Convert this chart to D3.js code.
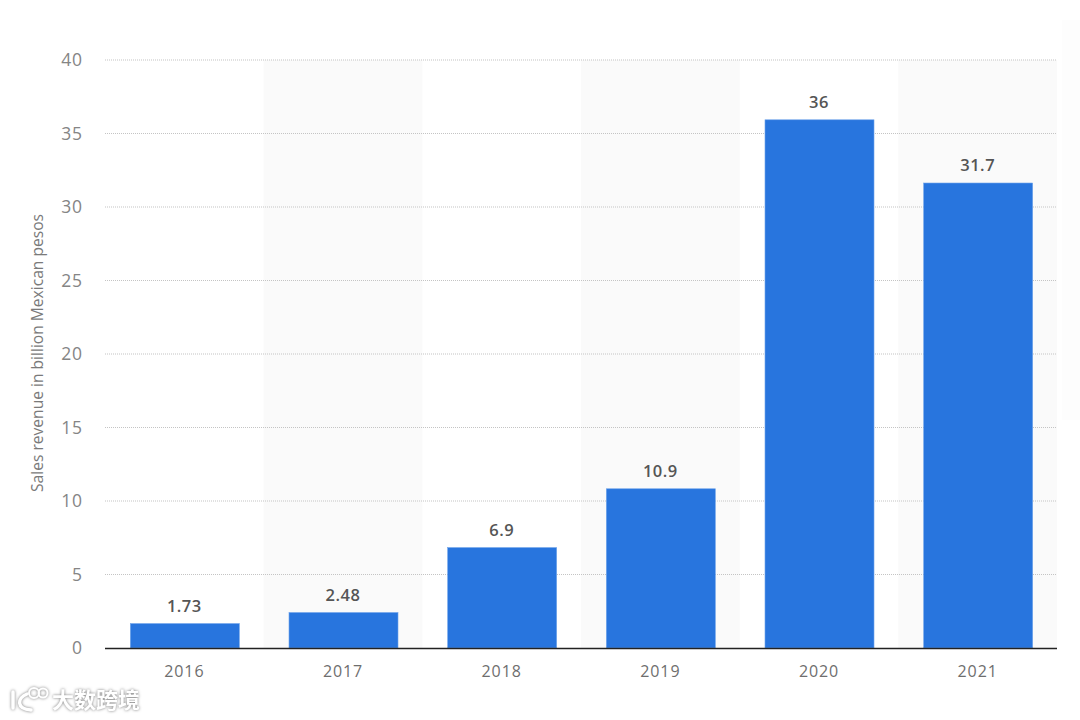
<!DOCTYPE html>
<html>
<head>
<meta charset="utf-8">
<script src="https://cdn.jsdelivr.net/npm/d3@7"></script>
<style>
  html, body { margin: 0; padding: 0; background: #fff; }
  svg { display: block; }
  text { font-family: "Open Sans", sans-serif; }
</style>
</head>
<body>
<svg id="chart"></svg>
<script>
const years = ['2016', '2017', '2018', '2019', '2020', '2021']
const revenue = [1.73, 2.48, 6.9, 10.9, 36, 31.7]
const valueLabels = ['1.73', '2.48', '6.9', '10.9', '36', '31.7']
const yTicks = [0, 5, 10, 15, 20, 25, 30, 35, 40]
const yTitle = 'Sales revenue in billion Mexican pesos'
const watermark = '大数跨境'

let width = 1080
let height = 720
let margin = { top: 60, right: 23, bottom: 72, left: 105 }

let svg = d3.select('#chart')
  .attr('width', width)
  .attr('height', height)
  .attr('viewBox', [0, 0, width, height])

let x = d3.scaleBand()
  .domain(years)
  .range([margin.left, width - margin.right])
  .paddingInner(0.313)
  .paddingOuter(0.1565)

let y = d3.scaleLinear()
  .domain([0, 40])
  .range([height - margin.bottom, margin.top])

// faint shadow down the right edge of the screenshot
svg.append('rect')
  .attr('x', 1062)
  .attr('y', 20)
  .attr('width', 18)
  .attr('height', 400)
  .attr('fill', '#fdfdfd')

// alternating column stripes
let step = x.step()
svg.selectAll('.stripe')
  .data(years.filter((d, i) => i % 2 === 1))
  .enter()
  .append('rect')
  .attr('class', 'stripe')
  .attr('x', d => x(d) - (step - x.bandwidth()) / 2)
  .attr('y', y(40))
  .attr('width', step)
  .attr('height', y(0) - y(40))
  .attr('fill', '#fafafa')

// gridlines
svg.append('g')
  .selectAll('line')
  .data(yTicks.filter(d => d > 0))
  .enter()
  .append('line')
  .attr('x1', margin.left)
  .attr('x2', width - margin.right)
  .attr('y1', d => y(d))
  .attr('y2', d => y(d))
  .attr('stroke', '#c4c4c4')
  .attr('stroke-width', 1.2)
  .attr('stroke-dasharray', '1 1')

// bars, the thin light stroke softens the edges like the reference
svg.selectAll('.bar')
  .data(revenue)
  .enter()
  .append('rect')
  .attr('class', 'bar')
  .attr('x', (d, i) => x(years[i]) + 0.5)
  .attr('y', d => y(d) + 1)
  .attr('width', x.bandwidth())
  .attr('height', d => y(0) - y(d) - 1)
  .attr('fill', '#2875de')
  .attr('stroke', '#6ea3ea')
  .attr('stroke-width', 0.6)

// value labels
svg.selectAll('.value')
  .data(revenue)
  .enter()
  .append('text')
  .attr('class', 'value')
  .attr('x', (d, i) => x(years[i]) + x.bandwidth() / 2)
  .attr('y', d => y(d) - 11)
  .attr('text-anchor', 'middle')
  .attr('font-size', 16.5)
  .attr('font-weight', 600)
  .attr('letter-spacing', 0.5)
  .attr('fill', '#555555')
  .text((d, i) => valueLabels[i])

// y axis labels
let yAxis = svg.append('g')
  .attr('transform', `translate(${margin.left},0)`)
  .call(d3.axisLeft(y).tickValues(yTicks).tickSize(0).tickPadding(22))
yAxis.select('.domain').remove()
yAxis.selectAll('text')
  .attr('font-size', 17.5)
  .attr('letter-spacing', 0.9)
  .attr('fill', '#858585')
  .style('font-family', '"Open Sans", sans-serif')

// x axis
let xAxis = svg.append('g')
  .attr('transform', `translate(0,${height - margin.bottom})`)
  .call(d3.axisBottom(x).tickSize(0).tickPadding(18))
xAxis.select('.domain').remove()
xAxis.selectAll('text')
  .attr('font-size', 16)
  .attr('letter-spacing', 0.9)
  .attr('fill', '#6e6e6e')
  .style('font-family', '"Open Sans", sans-serif')
svg.append('line')
  .attr('x1', margin.left)
  .attr('x2', width - margin.right)
  .attr('y1', y(0) + 0.5)
  .attr('y2', y(0) + 0.5)
  .attr('stroke', '#222222')
  .attr('stroke-width', 1.5)

svg.append('text')
  .attr('transform', 'translate(43,353) rotate(-90)')
  .attr('text-anchor', 'middle')
  .attr('font-size', 15.6)
  .attr('fill', '#7a7a7a')
  .text(yTitle)

// watermark, logo first and then the text
let mark = svg.append('g')
  .attr('fill', 'none')
  .attr('stroke', '#ffffff')
  .attr('stroke-width', 3.5)
  .attr('stroke-linecap', 'round')
  .style('filter', 'drop-shadow(0 0 1.5px #7a7a7a)')
mark.append('path').attr('d', 'M13 692 L13 708 M27 694 C17 698 16 709 31 710')
mark.append('circle').attr('cx', 34).attr('cy', 693).attr('r', 5).attr('stroke-width', 2)
mark.append('circle').attr('cx', 43).attr('cy', 693).attr('r', 4.5).attr('stroke-width', 2)
svg.append('text')
  .attr('x', 52)
  .attr('y', 708)
  .attr('font-size', 22)
  .attr('font-weight', 700)
  .attr('fill', '#ffffff')
  .style('font-family', '"Noto Sans CJK SC", sans-serif')
  .style('filter', 'drop-shadow(0 0 1.5px #7a7a7a)')
  .text(watermark)
</script>
</body>
</html>
